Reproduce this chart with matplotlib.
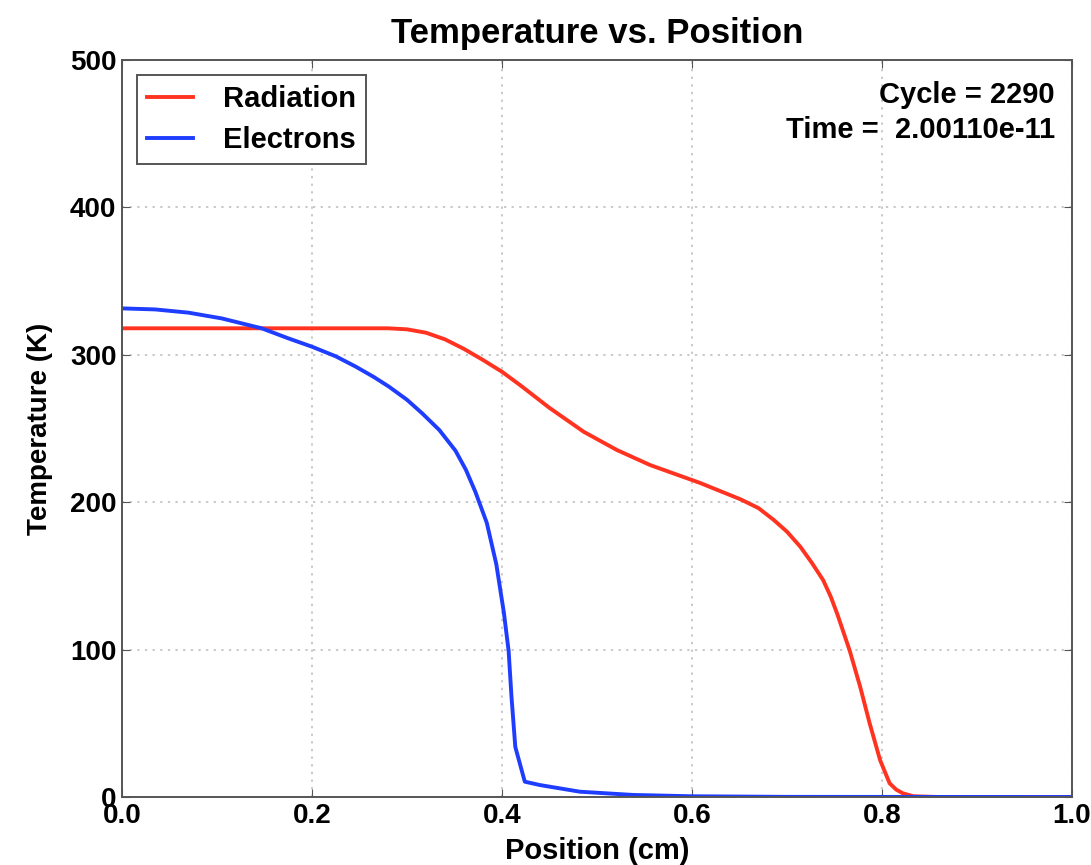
import numpy as np
import matplotlib
matplotlib.use("Agg")
import matplotlib.pyplot as plt

# readings
x_rad = [0.0, 0.10, 0.20, 0.28, 0.30, 0.32, 0.34, 0.36, 0.38, 0.40,
         0.42, 0.45, 0.486, 0.521, 0.556, 0.608, 0.651, 0.670, 0.686, 0.700,
         0.714, 0.726, 0.738, 0.746, 0.753, 0.766, 0.777, 0.787, 0.798, 0.808,
         0.815, 0.822, 0.833, 0.86, 1.0]
T_rad = [318, 318, 318, 318, 317.3, 315, 310.5, 304, 296.5, 288.5,
         279, 264, 247.8, 235.4, 225.2, 213.2, 202, 196, 188, 180,
         169.8, 159, 147.2, 136, 124, 99.3, 74.8, 50, 25, 9.3,
         5, 2.5, 0.5, 0, 0]

x_ele = [0.0, 0.035, 0.070, 0.105, 0.147, 0.175, 0.200, 0.225, 0.246, 0.265,
         0.281, 0.300, 0.316, 0.334, 0.351, 0.362, 0.372, 0.384, 0.394, 0.402,
         0.407, 0.410, 0.414, 0.424, 0.440, 0.482, 0.538, 0.60, 0.70, 1.0]
T_ele = [331.5, 330.8, 328.6, 324.7, 318, 311.2, 305.5, 299, 292, 285,
         278.4, 269.5, 260.3, 249, 235, 222, 207, 186, 158, 125,
         99, 68, 34, 10.4, 8.1, 3.6, 1.4, 0.5, 0.1, 0]

cycle = 2290
time = 2.00110e-11

plt.rcParams['font.family'] = ['Liberation Sans', 'DejaVu Sans']
plt.rcParams['font.weight'] = 'bold'
plt.rcParams['axes.labelweight'] = 'bold'
plt.rcParams['axes.titleweight'] = 'bold'

fig = plt.figure(figsize=(10.91, 8.65), dpi=100)
ax = fig.add_axes([0.1118, 0.0786, 0.8708, 0.852])

ax.plot(x_rad, T_rad, color='#ff3320', lw=2.8, label='Radiation',
        solid_joinstyle='round')
ax.plot(x_ele, T_ele, color='#1f3dff', lw=2.8, label='Electrons',
        solid_joinstyle='round')

ax.set_xlim(0, 1)
ax.set_ylim(0, 500)
ax.set_xticks(np.arange(0, 1.01, 0.2))
ax.set_yticks(np.arange(0, 501, 100))
ax.tick_params(direction='in', top=True, right=True, labelsize=20, length=6,
               pad=4, color='#555555')
ax.grid(True, linestyle=(0, (1.5, 3.5)), color='#bbbbbb', lw=1.1)
for s in ax.spines.values():
    s.set_color('#555555')
    s.set_linewidth(1.4)

ax.set_title('Temperature vs. Position', fontsize=25, pad=12)
ax.set_xlabel('Position (cm)', fontsize=21, labelpad=6)
ax.set_ylabel('Temperature (K)', fontsize=20, labelpad=12)

leg = ax.legend(loc='upper left', fontsize=21, handlelength=1.6,
                handletextpad=1.0, borderpad=0.35, labelspacing=0.45,
                fancybox=False, framealpha=1, borderaxespad=0.5)
leg.get_frame().set_edgecolor('#555555')
leg.get_frame().set_linewidth(1.4)

ax.text(0.982, 0.972, 'Cycle = %d\nTime =  %.5e' % (cycle, time),
        transform=ax.transAxes, ha='right', va='top', fontsize=21,
        linespacing=1.35)

fig.savefig('out.png', dpi=100)
